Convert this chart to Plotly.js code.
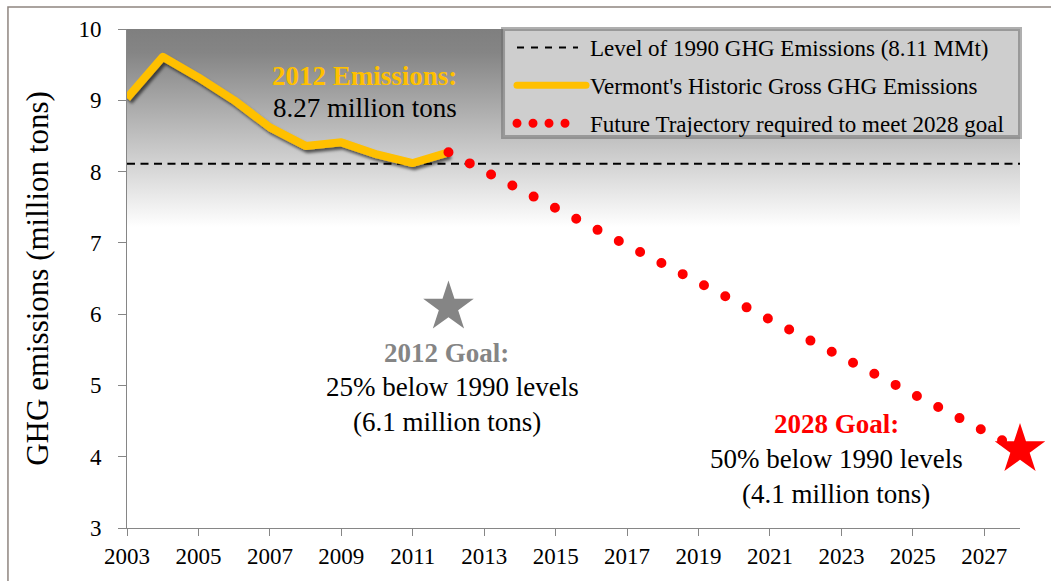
<!DOCTYPE html>
<html><head><meta charset="utf-8">
<script src="https://cdn.plot.ly/plotly-3.0.1.min.js"></script>
<style>html,body{margin:0;padding:0;background:#fff;}#chart{width:1051px;height:581px;}</style>
</head><body><div id="chart"></div>
<script>
// ---- data ----
var historicYears = [2003, 2004, 2005, 2006, 2007, 2008, 2009, 2010, 2011, 2012];
var historicEmissions = [9.03, 9.61, 9.32, 9.00, 8.62, 8.36, 8.41, 8.24, 8.12, 8.27];
var level1990 = 8.11;
var level1990Years = [2003, 2028];
var trajectoryYears = [2012, 2028];
var trajectoryEmissions = [8.27, 4.1];
var goalYears = [2012, 2028];
var goalValues = [6.1, 4.1];
var xTickYears = [2003, 2005, 2007, 2009, 2011, 2013, 2015, 2017, 2019, 2021, 2023, 2025, 2027];
var yTickValues = [3, 4, 5, 6, 7, 8, 9, 10];
var seriesNames = [
  'Level of 1990 GHG Emissions (' + level1990.toFixed(2) + ' MMt)',
  "Vermont's Historic Gross GHG Emissions",
  'Future Trajectory required to meet 2028 goal'
];

var FONT = 'Liberation Serif, serif';
var GOLD = '#FFC000', RED = '#FF0000', GRAY = '#858585';

var traces = [
  {x: level1990Years, y: [level1990, level1990], type: 'scatter', mode: 'lines',
   name: seriesNames[0], legendgroup: 'a',
   line: {color: '#000', width: 2, dash: '8px,5.5px'}, hoverinfo: 'skip'},
  {x: historicYears, y: historicEmissions, type: 'scatter', mode: 'lines',
   name: seriesNames[1], legendgroup: 'b',
   line: {color: GOLD, width: 8}},
  {x: trajectoryYears, y: trajectoryEmissions, type: 'scatter', mode: 'lines',
   name: seriesNames[2], legendgroup: 'c',
   line: {color: RED, width: 10, dash: '0px,24px'}},
  {x: goalYears, y: goalValues, type: 'scatter', mode: 'markers', showlegend: false,
   cliponaxis: false,
   marker: {symbol: 'star', size: 38, color: [GRAY, RED], line: {width: 0}}}
];

var gradSvg = '<svg xmlns="http://www.w3.org/2000/svg" width="100" height="100" viewBox="0 0 100 100" preserveAspectRatio="none">' +
  '<defs><linearGradient id="g" x1="0" y1="0" x2="0" y2="1">' +
  '<stop offset="0" stop-color="#7f7f7f"/><stop offset="0.12" stop-color="#858585"/><stop offset="1" stop-color="#ffffff"/>' +
  '</linearGradient></defs><rect width="100" height="100" fill="url(#g)"/></svg>';

function ann(x, y, text, color, bold) {
  return {x: x, y: y, xref: 'x', yref: 'y', text: bold ? '<b>' + text + '</b>' : text,
    showarrow: false, xanchor: 'center', yanchor: 'middle',
    font: {family: FONT, size: 27, color: color || '#000'}};
}

var layout = {
  width: 1051, height: 581,
  margin: {l: 127, r: 31, t: 29, b: 53},
  paper_bgcolor: '#fff', plot_bgcolor: '#fff',
  font: {family: FONT, color: '#000'},
  showlegend: true,
  legend: {x: 0.4289, xanchor: 'left', y: 1.006, yanchor: 'top',
    bgcolor: 'rgba(0,0,0,0)', borderwidth: 0,
    font: {family: FONT, size: 23, color: '#000'},
    itemwidth: 70, tracegroupgap: 5, traceorder: 'grouped', itemclick: false},
  xaxis: {range: [2003, 2028], tickvals: xTickYears, ticks: 'outside', ticklen: 7,
    tickcolor: '#868686', showline: true, linecolor: '#868686', linewidth: 1,
    showgrid: false, zeroline: false, tickfont: {family: FONT, size: 23, color: '#000'}},
  yaxis: {range: [3, 10], tickvals: yTickValues, ticks: 'outside', ticklen: 8,
    tickcolor: '#868686', showline: true, linecolor: '#868686', linewidth: 1,
    showgrid: false, zeroline: false, ticklabelstandoff: 12,
    tickfont: {family: FONT, size: 23, color: '#000'},
    title: {text: 'GHG emissions (million tons)', font: {family: FONT, size: 31, color: '#000'}, standoff: 20}},
  images: [{source: 'data:image/svg+xml;charset=utf-8,' + encodeURIComponent(gradSvg),
    xref: 'x', yref: 'y', x: 2003, y: 10, sizex: 25, sizey: 2.78,
    xanchor: 'left', yanchor: 'top', sizing: 'stretch', layer: 'below'}],
  shapes: [
    {type: 'rect', xref: 'paper', yref: 'paper', x0: -0.1333, x1: 1.25, y0: -0.25, y1: 1.0441,
     line: {color: '#8f8580', width: 1.5}, fillcolor: 'rgba(0,0,0,0)', layer: 'above'},
    {type: 'rect', xref: 'paper', yref: 'paper', x0: 0.4211, x1: 1.0, y0: 0.7836, y1: 1.0,
     line: {color: 'rgba(110,110,110,0.55)', width: 4}, fillcolor: '#cecece', layer: 'above'}
  ],
  annotations: [
    ann(2009.65, 9.34, '2012 Emissions:', GOLD, true),
    ann(2009.65, 8.89, historicEmissions[historicEmissions.length - 1].toFixed(2) + ' million tons'),
    ann(2011.95, 5.455, '2012 Goal:', GRAY, true),
    ann(2012.1, 4.98, '25% below 1990 levels'),
    ann(2011.95, 4.49, '(' + goalValues[0] + ' million tons)'),
    ann(2022.85, 4.46, '2028 Goal:', RED, true),
    ann(2022.85, 3.97, '50% below 1990 levels'),
    ann(2022.85, 3.48, '(' + goalValues[1] + ' million tons)')
  ]
};

var gd = document.getElementById('chart');
Plotly.newPlot(gd, traces, layout, {staticPlot: true, displayModeBar: false}).then(function () {
  var ns = 'http://www.w3.org/2000/svg';
  var defs = gd.querySelector('svg.main-svg defs');
  var f = document.createElementNS(ns, 'filter');
  f.setAttribute('id', 'lineShadow');
  f.setAttribute('x', '-5%'); f.setAttribute('y', '-20%');
  f.setAttribute('width', '115%'); f.setAttribute('height', '150%');
  var ds = document.createElementNS(ns, 'feDropShadow');
  ds.setAttribute('dx', '2'); ds.setAttribute('dy', '3'); ds.setAttribute('stdDeviation', '1.5');
  ds.setAttribute('flood-color', '#000'); ds.setAttribute('flood-opacity', '0.6');
  f.appendChild(ds); defs.appendChild(f);

  var tr = gd.querySelectorAll('.scatterlayer .trace');
  var yl = tr[1].querySelector('path.js-line');
  if (yl) { yl.setAttribute('filter', 'url(#lineShadow)'); yl.style.strokeLinejoin = 'round'; }
  var rl = tr[2].querySelector('path.js-line');
  if (rl) { rl.style.strokeLinecap = 'round'; }

  var lg = gd.querySelectorAll('.legend .traces');
  lg.forEach(function (g, i) {
    var p = g.querySelector('.legendlines path');
    if (!p) return;
    if (i === 0) { p.setAttribute('d', 'M7,0h61'); p.style.strokeDasharray = '7px,7px'; }
    if (i === 1) { p.setAttribute('d', 'M7,0h69'); p.style.strokeLinecap = 'round'; p.style.strokeWidth = '7px'; }
    if (i === 2) { p.setAttribute('d', 'M7,0h64'); p.style.strokeLinecap = 'round'; p.style.strokeDasharray = '0px,16px'; p.style.strokeWidth = '9px'; }
  });
});
</script>
</body></html>
